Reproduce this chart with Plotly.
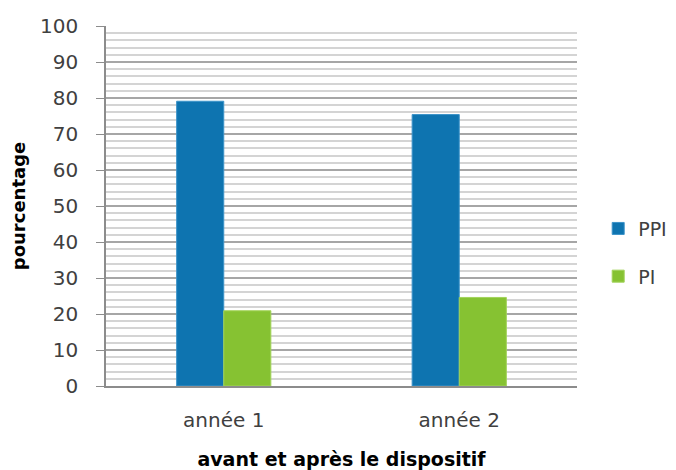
import plotly.graph_objects as go

categories = ["année 1", "année 2"]
ppi_values = [79.1, 75.4]
pi_values = [20.9, 24.6]
series_names = ["PPI", "PI"]
y_ticks = [0, 10, 20, 30, 40, 50, 60, 70, 80, 90, 100]

FONT = "'DejaVu Sans', sans-serif"

fig = go.Figure()
fig.add_trace(go.Bar(x=categories, y=ppi_values, name=series_names[0], legendgroup="a",
                     marker=dict(color="#0E74B0", line=dict(color="#3C93C9", width=1))))
fig.add_trace(go.Bar(x=categories, y=pi_values, name=series_names[1], legendgroup="b",
                     marker=dict(color="#86C232", line=dict(color="#A2D35A", width=1))))

fig.update_layout(
    width=676, height=470,
    margin=dict(l=98, r=107, t=18, b=92, autoexpand=False),
    paper_bgcolor="white", plot_bgcolor="white",
    barmode="group", bargap=0.6, bargroupgap=0,
    font=dict(family=FONT, size=20, color="#404040"),
    legend=dict(x=1.045, y=0.49, xanchor="left", yanchor="top",
                font=dict(size=19, color="#404040"), tracegroupgap=20,
                traceorder="grouped", itemwidth=30),
    xaxis=dict(showline=True, linecolor="#8c8c8c", linewidth=1.5, ticks="",
               tickfont=dict(size=20, color="#404040"), ticklabelstandoff=15,
               title=dict(text="<b>avant et après le dispositif</b>",
                          font=dict(size=19, color="#000000"), standoff=22)),
    yaxis=dict(range=[0, 100], tickvals=y_ticks, showline=True, linecolor="#8c8c8c",
               linewidth=1.5, ticks="outside", ticklen=8, tickcolor="#8c8c8c",
               tickfont=dict(size=20, color="#404040"), ticklabelstandoff=14,
               showgrid=True, gridcolor="#a6a6a6", gridwidth=1.5,
               minor=dict(dtick=2, showgrid=True, gridcolor="#d4d4d4", gridwidth=1.5, ticks=""),
               title=dict(text="<b>pourcentage</b>", font=dict(size=18, color="#000000"), standoff=10),
               zeroline=False),
)

fig.write_html("out.html")
